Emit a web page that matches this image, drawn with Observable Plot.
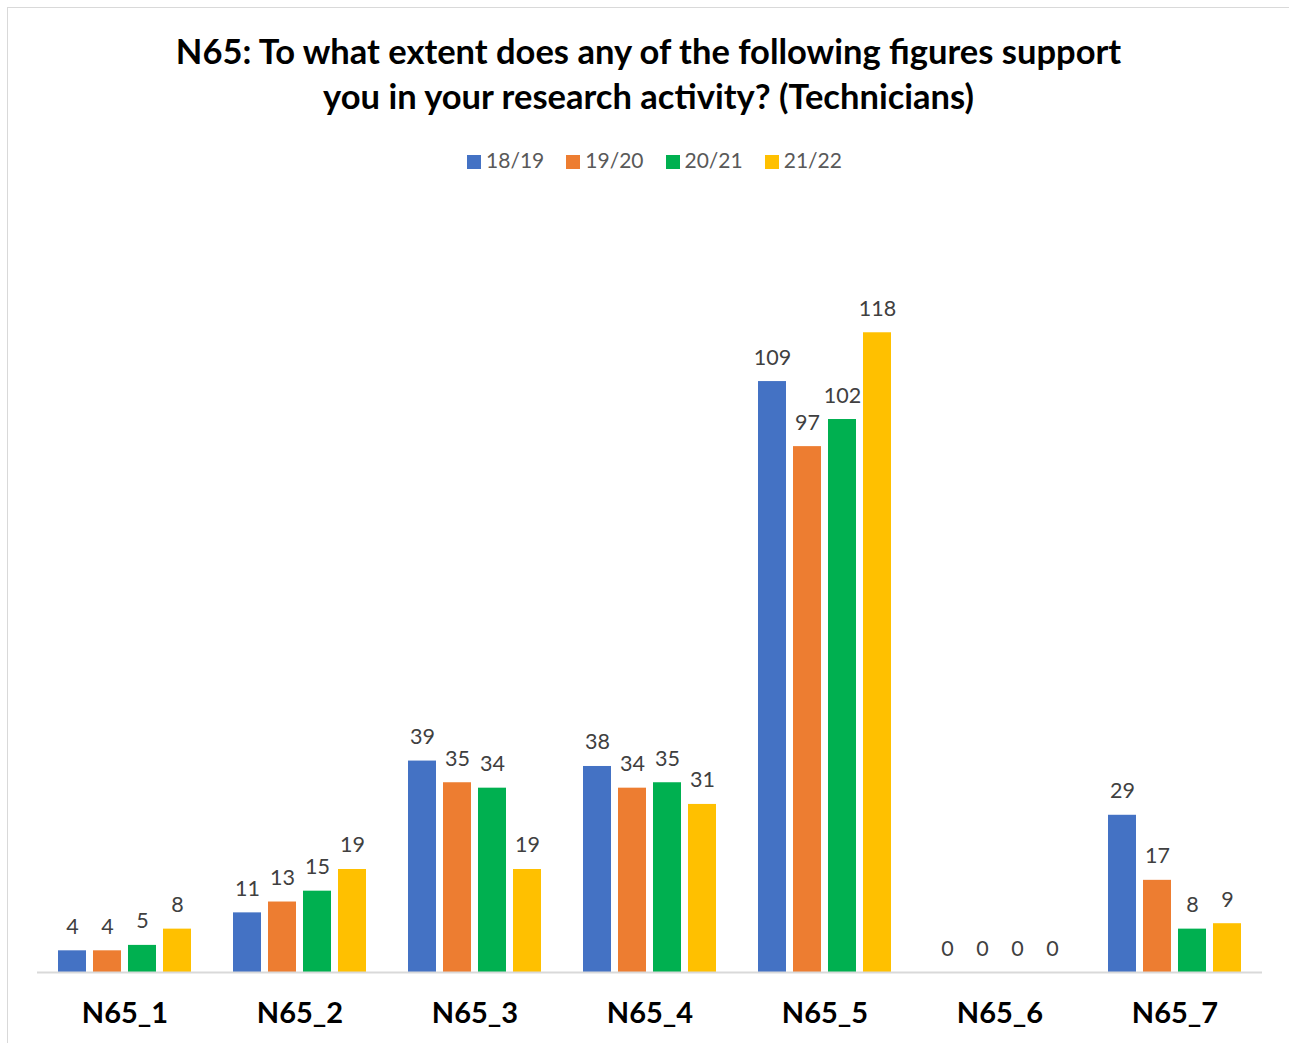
<!DOCTYPE html>
<html>
<head>
<meta charset="utf-8">
<script src="https://cdn.jsdelivr.net/npm/d3@7"></script>
<script src="https://cdn.jsdelivr.net/npm/@observablehq/plot@0.6"></script>
<style>
  html, body { margin: 0; padding: 0; background: #fff; }
  body { width: 1289px; height: 1043px; position: relative; overflow: hidden; font-family: Lato, "Open Sans", sans-serif; }
  #frame { position: absolute; left: 7px; top: 7px; width: 1290px; height: 1050px; border: 1px solid #d9d9d9; box-sizing: border-box; }
  #title { position: absolute; left: 0; width: 1297px; top: 28px; text-align: center; font-weight: bold; font-size: 34.5px; line-height: 45px; color: #000; }
  #legend { position: absolute; left: 6px; width: 1297px; top: 147px; text-align: center; font-size: 21px; color: #595959; line-height: 26px; }
  .li { display: inline-block; margin: 0 11px; }
  .sw { display: inline-block; width: 14px; height: 14px; margin-right: 5px; vertical-align: -1px; }
  #chart { position: absolute; left: 0; top: 190px; }
</style>
</head>
<body>
<div id="frame"></div>
<div id="title">N65: To what extent does any of the following figures support<br>you in your research activity? (Technicians)</div>
<div id="legend"></div>
<div id="chart"></div>
<script>
const categories = ["N65_1", "N65_2", "N65_3", "N65_4", "N65_5", "N65_6", "N65_7"];
const series = ["18/19", "19/20", "20/21", "21/22"];
const colors = ["#4472C4", "#ED7D31", "#00B050", "#FFC000"];
const v1819 = [4, 11, 39, 38, 109, 0, 29];
const v1920 = [4, 13, 35, 34, 97, 0, 17];
const v2021 = [5, 15, 34, 35, 102, 0, 8];
const v2122 = [8, 19, 19, 31, 118, 0, 9];
const seriesValues = [v1819, v1920, v2021, v2122];

const data = [];
categories.forEach((c, i) => {
  series.forEach((s, j) => data.push({category: c, series: s, value: seriesValues[j][i]}));
});

const legend = document.getElementById("legend");
series.forEach((s, j) => {
  const span = document.createElement("span");
  span.className = "li";
  span.innerHTML = `<span class="sw" style="background:${colors[j]}"></span>${s}`;
  legend.appendChild(span);
});

const chart = Plot.plot({
  width: 1289,
  height: 853,
  marginLeft: 36,
  marginRight: 27,
  marginTop: 23,
  marginBottom: 71,
  style: {fontFamily: "Lato, 'Open Sans', sans-serif", background: "transparent"},
  fx: {domain: categories, padding: 0, label: null},
  x: {domain: series, paddingInner: 0.2, paddingOuter: 0.6, axis: null},
  y: {domain: [0, 140], axis: null},
  color: {domain: series, range: colors},
  marks: [
    Plot.barY(data, {fx: "category", x: "series", y: "value", fill: "series"}),
    Plot.ruleY([0], {stroke: "#d9d9d9", strokeWidth: 2}),
    Plot.text(data, {fx: "category", x: "series", y: "value", text: d => String(d.value), lineAnchor: "bottom", dy: -17, fontSize: 21.5, fill: "#404040"}),
    Plot.axisFx({anchor: "bottom", tickSize: 0, tickPadding: 30, fontSize: 29, fontWeight: "bold", fill: "#000", label: null})
  ]
});
document.getElementById("chart").appendChild(chart);
</script>
</body>
</html>
